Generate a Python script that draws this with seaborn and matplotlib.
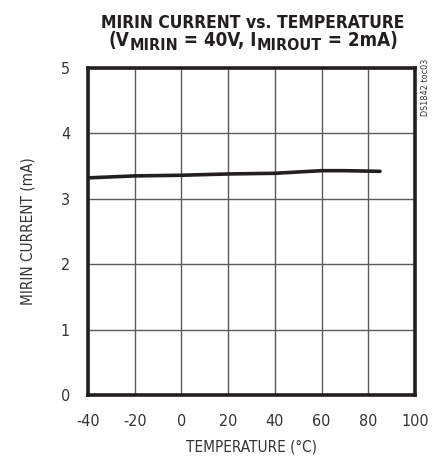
import matplotlib
matplotlib.use("Agg")
import matplotlib.pyplot as plt
import pandas as pd
import seaborn as sns

temperature = [-40, -20, 0, 20, 40, 60, 70, 85]
current_ma = [3.32, 3.35, 3.36, 3.38, 3.39, 3.43, 3.43, 3.42]
x_ticks = [-40, -20, 0, 20, 40, 60, 80, 100]
y_ticks = [0, 1, 2, 3, 4, 5]

W, H = 441, 459
INK = "#231f20"

sns.set_theme(style="white")
plt.rcParams["font.family"] = ["DejaVu Sans"]
plt.rcParams["font.stretch"] = "condensed"
plt.rcParams["axes.unicode_minus"] = False

df = pd.DataFrame({"temp": temperature, "current": current_ma})

fig = plt.figure(figsize=(W / 100, H / 100), dpi=100)
ax = fig.add_axes([88 / W, 64 / H, 327 / W, 327 / H])

sns.lineplot(data=df, x="temp", y="current", ax=ax, color=INK,
             linewidth=2.6, estimator=None)

ax.set_xlim(-40, 100)
ax.set_ylim(0, 5)
ax.set_xticks(x_ticks)
ax.set_yticks(y_ticks)
ax.grid(True, color="#5a5a5a", linewidth=1.0)
ax.tick_params(axis="both", length=0, labelsize=11.5, colors="#333333")
ax.tick_params(axis="x", pad=14)
ax.tick_params(axis="y", pad=13)
for spine in ax.spines.values():
    spine.set_color(INK)
    spine.set_linewidth(2.6)

ax.set_xlabel("TEMPERATURE (°C)", fontsize=11, color="#333333", labelpad=7)
ax.set_ylabel("MIRIN CURRENT (mA)", fontsize=11, color="#333333",
              labelpad=18)

# title line 1
fig.text(253 / W, 1 - 28 / H, "MIRIN CURRENT vs. TEMPERATURE",
         ha="center", va="baseline", fontsize=12.5, fontweight="bold",
         color=INK)

# title line 2, with subscripts built from pieces
pieces = [("(V", 13.5, 0), ("MIRIN", 11.5, -4), (" = 40V, I", 13.5, 0),
          ("MIROUT", 11.5, -4), (" = 2mA)", 13.5, 0)]
renderer = fig.canvas.get_renderer()
arts = []
x = 0.0
for txt, size, dy in pieces:
    t = fig.text(0, 0, txt, fontsize=size, fontweight="bold", color=INK,
                 ha="left", va="baseline")
    w = t.get_window_extent(renderer).width
    arts.append((t, x, dy))
    x += w
start = 253 - x / 2
for t, off, dy in arts:
    t.set_position(((start + off) / W, 1 - (46 - dy) / H))

fig.text(426 / W, 1 - 87 / H, "DS1842 toc03", rotation=90,
         ha="center", va="center", fontsize=6.5, color="#333333")

fig.savefig("out.png", dpi=100)
